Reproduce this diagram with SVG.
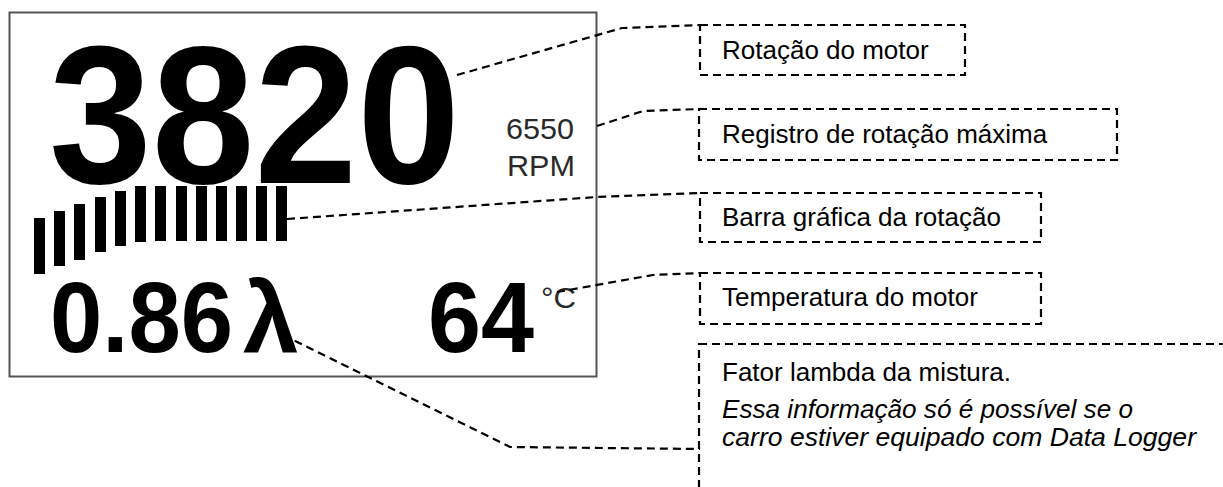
<svg xmlns="http://www.w3.org/2000/svg" width="1223" height="487" viewBox="0 0 1223 487">
<style>
.big{font-family:"Liberation Sans",Arial,sans-serif;font-weight:bold;fill:#000}
.small{font-family:"Liberation Sans",Arial,sans-serif;fill:#2a2a2a}
.lbl{font-family:"Liberation Sans",Arial,sans-serif;font-size:26px;fill:#000}
.it{font-family:"Liberation Sans",Arial,sans-serif;font-size:25px;font-style:italic;fill:#000}
.box{fill:none;stroke:#000;stroke-width:2.2;stroke-dasharray:8,5}
.conn{fill:none;stroke:#000;stroke-width:2.2;stroke-dasharray:8,5}
.bar{fill:#000}
</style>
<rect width="1223" height="487" fill="#fff"/>
<g id="display">
<rect x="9.5" y="12.5" width="587" height="364" fill="#fff" stroke="#555" stroke-width="2"/>
<text class="big" x="49" y="183" font-size="197" textLength="411" lengthAdjust="spacingAndGlyphs">3820</text>
<text class="small" x="506" y="139" font-size="30" textLength="68" lengthAdjust="spacingAndGlyphs">6550</text>
<text class="small" x="507" y="176" font-size="30" textLength="68" lengthAdjust="spacingAndGlyphs">RPM</text>
<g id="bargraph">
<rect class="bar" x="34" y="218" width="11" height="56"/>
<rect class="bar" x="54" y="211" width="11" height="55"/>
<rect class="bar" x="74" y="204" width="11" height="56"/>
<rect class="bar" x="95" y="197" width="11" height="55"/>
<rect class="bar" x="115" y="191" width="11" height="55"/>
<rect class="bar" x="135" y="186" width="11" height="56"/>
<rect class="bar" x="155" y="186" width="11" height="55"/>
<rect class="bar" x="176" y="186" width="11" height="55"/>
<rect class="bar" x="196" y="186" width="11" height="55"/>
<rect class="bar" x="216" y="186" width="11" height="55"/>
<rect class="bar" x="236" y="186" width="11" height="55"/>
<rect class="bar" x="256" y="186" width="11" height="55"/>
<rect class="bar" x="276" y="186" width="11" height="55"/>
</g>
<text class="big" x="50" y="352" font-size="100" textLength="183" lengthAdjust="spacingAndGlyphs">0.86</text>
<text class="big" x="243" y="352" font-size="100">λ</text>
<text class="big" x="428" y="352" font-size="100" textLength="106" lengthAdjust="spacingAndGlyphs">64</text>
<text class="small" x="541" y="308" font-size="30" textLength="35" lengthAdjust="spacingAndGlyphs">°C</text>
</g>
<g id="connectors">
<polyline class="conn" points="457,75 622,28 700,25"/>
<polyline class="conn" points="597,126 643,111 700,109"/>
<polyline class="conn" points="287,219 597,197 700,193"/>
<polyline class="conn" points="557,292 653,275 700,273"/>
<polyline class="conn" points="283,335 510,447 700,449"/>
</g>
<g id="label-rotacao">
<rect class="box" x="700" y="25" width="265" height="50"/>
<text class="lbl" x="722" y="59">Rotação do motor</text>
</g>
<g id="label-registro">
<rect class="box" x="699" y="109" width="418" height="51"/>
<text class="lbl" x="722" y="143">Registro de rotação máxima</text>
</g>
<g id="label-barra">
<rect class="box" x="700" y="193" width="341" height="49"/>
<text class="lbl" x="722" y="226">Barra gráfica da rotação</text>
</g>
<g id="label-temperatura">
<rect class="box" x="700" y="273" width="341" height="51"/>
<text class="lbl" x="722" y="306">Temperatura do motor</text>
</g>
<g id="label-lambda">
<rect class="box" x="699" y="344" width="600" height="200"/>
<text class="lbl" x="722" y="381">Fator lambda da mistura.</text>
<text class="it" x="722" y="418" textLength="411" lengthAdjust="spacingAndGlyphs">Essa informação só é possível se o</text>
<text class="it" x="722" y="446" textLength="474" lengthAdjust="spacingAndGlyphs">carro estiver equipado com Data Logger</text>
</g>
</svg>
